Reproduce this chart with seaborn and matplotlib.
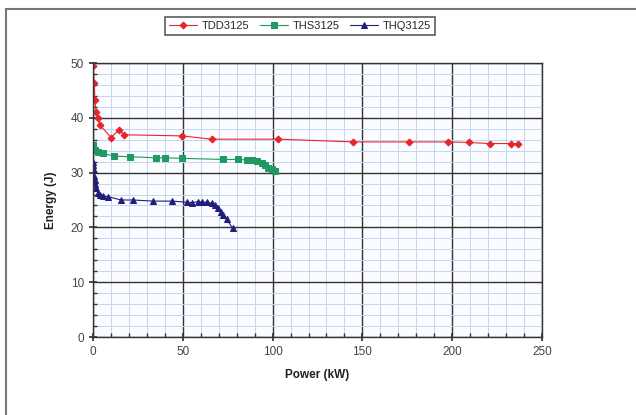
import matplotlib
matplotlib.use("Agg")
import matplotlib.pyplot as plt
import seaborn as sns
import pandas as pd
from matplotlib.ticker import MultipleLocator
from matplotlib.patches import Rectangle

sns.set_theme(style="white")
plt.rcParams['font.family'] = ['Liberation Sans', 'DejaVu Sans']

tdd_x = [0, 0.7, 1.1, 1.7, 2.6, 3.9, 10, 14.5, 17.3, 49.4, 66.1, 103.2, 145, 176.1, 197.5, 209.2, 221, 232.7, 236.8]
tdd_y = [49.5, 46.3, 43.2, 41.1, 39.9, 38.7, 36.4, 37.8, 36.9, 36.7, 36.1, 36.1, 35.6, 35.6, 35.6, 35.5, 35.3, 35.3, 35.3]

ths_x = [0, 1.1, 2.8, 5.5, 11.9, 20.6, 35, 40, 49.4, 72.6, 80.9, 85.6, 88.4, 91.1, 93.9, 95.8, 97.6, 99.5, 101.3]
ths_y = [35.0, 34.1, 33.8, 33.5, 33.0, 32.9, 32.7, 32.7, 32.6, 32.4, 32.4, 32.3, 32.3, 32.1, 31.7, 31.3, 30.9, 30.6, 30.3]

thq_x = [0, 0, 0.3, 0.3, 0.9, 1.1, 1.7, 2.6, 3.9, 5.7, 8.5, 15.6, 22.4, 33.6, 43.8, 52.2, 55, 58.6, 60.5, 63.3, 66.1, 67.9, 69.8, 71.1, 72.6, 74.4, 77.8]
thq_y = [32.0, 31.4, 30.5, 29.4, 28.6, 28.0, 27.1, 26.3, 25.9, 25.7, 25.6, 25.0, 25.0, 24.8, 24.8, 24.6, 24.5, 24.7, 24.6, 24.6, 24.4, 24.0, 23.5, 22.9, 22.3, 21.5, 19.8]

series_names = ["TDD3125", "THS3125", "THQ3125"]
colors = ["#e8232a", "#1f9a64", "#1f1f7a"]
markers = ["D", "s", "^"]
msizes = [3.5, 4, 4.5]

df = pd.concat([
    pd.DataFrame({"Power": tdd_x, "Energy": tdd_y, "Series": series_names[0]}),
    pd.DataFrame({"Power": ths_x, "Energy": ths_y, "Series": series_names[1]}),
    pd.DataFrame({"Power": thq_x, "Energy": thq_y, "Series": series_names[2]}),
], ignore_index=True)

fig = plt.figure(figsize=(6.36, 4.15), dpi=100)
ax = fig.add_axes([93/636, 1-337/415, (542-93)/636, (337-63)/415])
ax.set_facecolor("#fafcff")

for name, c, m, ms in zip(series_names, colors, markers, msizes):
    sub = df[df["Series"] == name]
    sns.lineplot(data=sub, x="Power", y="Energy", ax=ax, color=c, marker=m,
                 markersize=ms, markeredgecolor=c, linewidth=0.8,
                 label=name, sort=False, estimator=None)

ax.set_xlim(0, 250)
ax.set_ylim(0, 50)
ax.xaxis.set_major_locator(MultipleLocator(50))
ax.xaxis.set_minor_locator(MultipleLocator(10))
ax.yaxis.set_major_locator(MultipleLocator(10))
ax.yaxis.set_minor_locator(MultipleLocator(2))
ax.grid(which="minor", color="#c4d6f0", linewidth=0.7)
ax.grid(which="major", color="#333333", linewidth=1.0)
ax.set_axisbelow(True)
for s in ax.spines.values():
    s.set_visible(True)
    s.set_color("#333333")
    s.set_linewidth(1.0)
ax.tick_params(axis="both", which="both", direction="in", bottom=True, left=True,
               length=3, color="#333333", labelsize=8.5, labelcolor="#444444")
ax.tick_params(axis="both", which="major", direction="inout", length=6)
ax.set_xlabel("Power (kW)", fontsize=8.5, fontweight="bold", color="#222222", labelpad=8)
ax.set_ylabel("Energy (J)", fontsize=8.5, fontweight="bold", color="#222222", labelpad=10)

ax.get_legend().remove()
handles, labels = ax.get_legend_handles_labels()
leg = fig.legend(handles, labels, loc="center", bbox_to_anchor=(300/636, 1-26/415), ncol=3,
                 fontsize=8, frameon=True, fancybox=False, edgecolor="#333333",
                 handlelength=2.5, columnspacing=1.0, handletextpad=0.4, borderpad=0.35)
leg.get_frame().set_linewidth(1.2)

fig.patches.append(Rectangle((6/636, -0.1), 1.2, 1 - 9/415 + 0.1, transform=fig.transFigure,
                             fill=False, edgecolor="#777777", linewidth=1.5, zorder=0))

fig.savefig("out.png", dpi=100)
